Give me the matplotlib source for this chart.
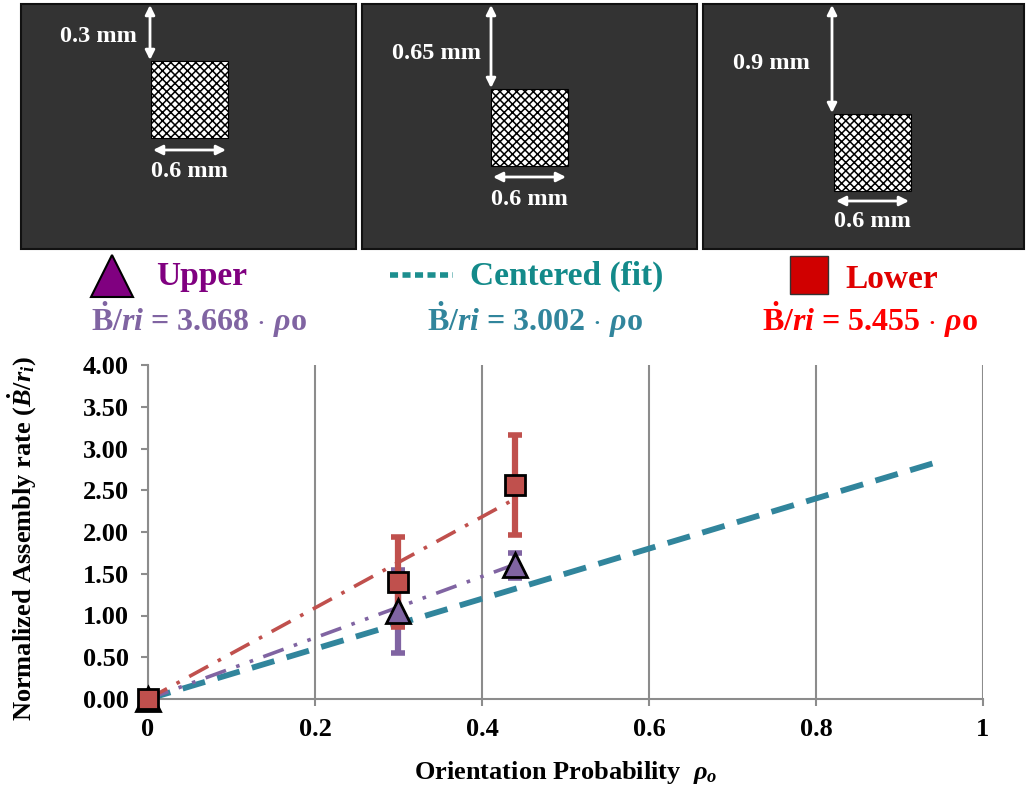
import matplotlib
matplotlib.use("Agg")
import matplotlib.pyplot as plt
from matplotlib.patches import Rectangle
import numpy as np

plt.rcParams['font.family'] = ['Liberation Serif', 'DejaVu Serif']
plt.rcParams['font.weight'] = 'bold'
plt.rcParams['mathtext.fontset'] = 'custom'
plt.rcParams['mathtext.rm'] = 'Liberation Serif:bold'
plt.rcParams['mathtext.it'] = 'Liberation Serif:italic:bold'
plt.rcParams['mathtext.bf'] = 'Liberation Serif:bold'
plt.rcParams['hatch.linewidth'] = 1.1

# data
series = ["Upper", "Centered (fit)", "Lower"]
slopes = [3.668, 3.002, 5.455]
fit_end = [0.44, 0.94, 0.44]

upper_x = [0.0, 0.30, 0.44]
upper_y = [0.0, 1.05, 1.60]
upper_err = [0.0, 0.50, 0.15]

lower_x = [0.0, 0.30, 0.44]
lower_y = [0.0, 1.40, 2.56]
lower_err = [0.0, 0.54, 0.60]

xticks = [0, 0.2, 0.4, 0.6, 0.8, 1]
xtick_labels = ["0", "0.2", "0.4", "0.6", "0.8", "1"]
yticks = [0, 0.5, 1.0, 1.5, 2.0, 2.5, 3.0, 3.5, 4.0]

offset_labels = ["0.3 mm", "0.65 mm", "0.9 mm"]
width_label = "0.6 mm"

# colours
c_red = '#C0504D'
c_purple = '#8064A2'
c_teal = '#31859C'
grid_c = '#8C8C8C'

W, H = 1028, 789
fig = plt.figure(figsize=(W / 100, H / 100), dpi=100)

# overlay in pixel coordinates for the sketches and the legend
ov = fig.add_axes([0, 0, 1, 1])
ov.set_xlim(0, W)
ov.set_ylim(H, 0)
ov.axis('off')

# panel layout
panels = [
    dict(x0=21, x1=356, sq=(151, 61, 77), ax_x=150, lab=(98, 36), wy=150, wl=171),
    dict(x0=362, x1=697, sq=(491, 89, 77), ax_x=491, lab=(437, 53), wy=177, wl=199),
    dict(x0=703, x1=1024, sq=(834, 114, 77), ax_x=832, lab=(771, 63), wy=201, wl=221),
]
top, bot = 4, 249
for p, lab in zip(panels, offset_labels):
    ov.add_patch(Rectangle((p['x0'], top), p['x1'] - p['x0'], bot - top,
                           facecolor='#333333', edgecolor='#111111', lw=1.5))
    sx, sy, ss = p['sq']
    ov.add_patch(Rectangle((sx, sy), ss, ss, facecolor='white',
                           edgecolor='black', hatch='xxxx', lw=0.8))
    ov.annotate('', xy=(p['ax_x'], top + 1), xytext=(p['ax_x'], sy - 1),
                arrowprops=dict(arrowstyle='<|-|>', color='white', lw=2,
                                mutation_scale=14, shrinkA=0, shrinkB=0))
    ov.text(p['lab'][0], p['lab'][1], lab, color='white', fontsize=17.5,
            fontweight='bold', ha='center', va='center')
    ov.annotate('', xy=(sx + 2, p['wy']), xytext=(sx + ss - 2, p['wy']),
                arrowprops=dict(arrowstyle='<|-|>', color='white', lw=2,
                                mutation_scale=14, shrinkA=0, shrinkB=0))
    ov.text(sx + ss / 2, p['wl'], width_label, color='white', fontsize=17.5,
            fontweight='bold', ha='center', va='center')

# legend row
ov.plot([112], [276], marker='^', ms=30, mfc='#800080', mec='black', mew=1.5)
ov.text(156, 276, series[0], color='#800080', fontsize=24, ha='left', va='center')
ov.plot([390, 453], [275, 275], color='#1C8E8E', lw=4, dashes=(1.45, 0.8))
ov.text(470, 276, series[1], color='#138A8A', fontsize=24, ha='left', va='center')
ov.plot([809], [275], marker='s', ms=28, mfc='#D00000', mec='#333333', mew=1)
ov.text(845, 279, series[2], color='#E00000', fontsize=24, ha='left', va='center')

formula_cols = [c_purple, c_teal, '#FF0000']
formula_x = [199, 535, 870]
for k, s in enumerate(slopes):
    ov.text(formula_x[k], 320,
            r'$\dot{\mathrm{B}}/\mathit{ri}$ = %.3f $\cdot$ $\mathit{\rho}$o' % s,
            color=formula_cols[k], fontsize=23, ha='center', va='center')

# main chart
ax = fig.add_axes([148 / W, 1 - 699 / H, (983 - 148) / W, (699 - 365) / H])
ax.set_xlim(0, 1)
ax.set_ylim(0, 4)

xs_c = np.linspace(0, fit_end[1], 2)
ax.plot(xs_c, slopes[1] * xs_c, color=c_teal, lw=4.2, dashes=(4, 2.2), zorder=3)
xs_u = np.linspace(0, fit_end[0], 2)
ax.plot(xs_u, slopes[0] * xs_u, color=c_purple, lw=2.6, dashes=(6, 3, 1, 3, 1, 3), zorder=3)
xs_l = np.linspace(0, fit_end[2], 2)
ax.plot(xs_l, slopes[2] * xs_l, color=c_red, lw=2.6, dashes=(6, 3, 1, 3), zorder=3)

ax.errorbar(upper_x, upper_y, yerr=upper_err, fmt='none', ecolor=c_purple,
            elinewidth=4.5, capsize=5, capthick=4, zorder=4, clip_on=False)
ax.errorbar(lower_x, lower_y, yerr=lower_err, fmt='none', ecolor=c_red,
            elinewidth=4.5, capsize=5, capthick=4, zorder=5, clip_on=False)
ax.plot(upper_x, upper_y, ls='none', marker='^', ms=17, mfc=c_purple,
        mec='black', mew=2, zorder=6, clip_on=False)
ax.plot(lower_x, lower_y, ls='none', marker='s', ms=14, mfc=c_red,
        mec='black', mew=2, zorder=7, clip_on=False)

ax.set_xticks(xticks)
ax.set_xticklabels(xtick_labels)
ax.set_yticks(yticks)
ax.set_yticklabels(['%.2f' % v for v in yticks])
ax.tick_params(axis='both', labelsize=19, color=grid_c, width=1.5, length=5,
               pad=9, direction='out')
for lbl in ax.get_xticklabels() + ax.get_yticklabels():
    lbl.set_fontweight('bold')

ax.grid(axis='x', color=grid_c, lw=1.5)
ax.set_axisbelow(True)
for side in ['top', 'right']:
    ax.spines[side].set_visible(False)
for side in ['left', 'bottom']:
    ax.spines[side].set_color(grid_c)
    ax.spines[side].set_linewidth(1.5)

ax.set_ylabel(r'Normalized Assembly rate ($\dot{B}/r_i$)', fontsize=19,
              fontweight='bold', va='center')
ax.yaxis.set_label_coords(-0.150, 0.48)
ax.set_xlabel(r'Orientation Probability  $\rho_o$', fontsize=19,
              fontweight='bold', va='center')
ax.xaxis.set_label_coords(0.5, -0.219)

fig.savefig('out.png', dpi=100)
